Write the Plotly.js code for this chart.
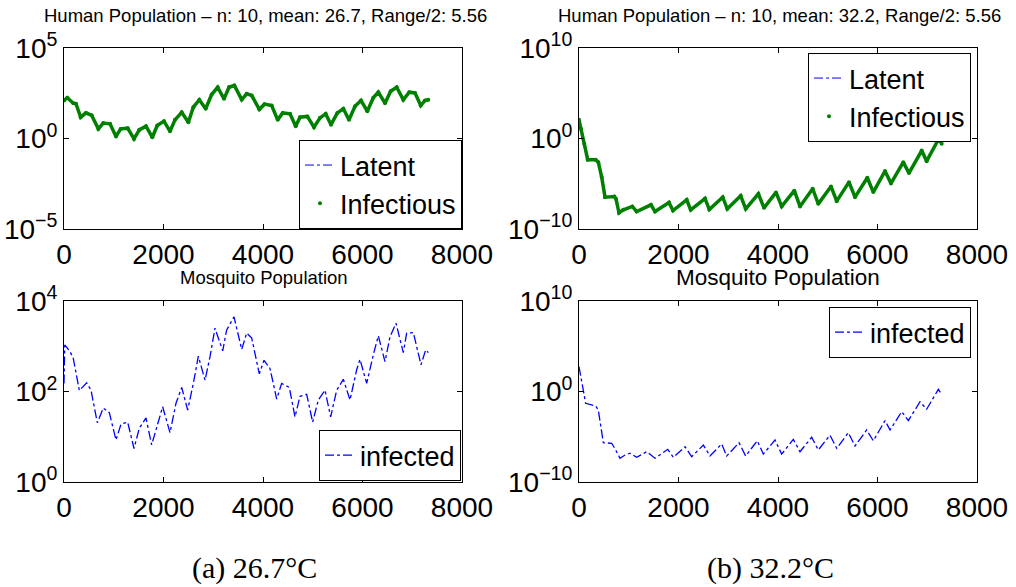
<!DOCTYPE html>
<html><head><meta charset="utf-8">
<script src="https://cdn.plot.ly/plotly-3.0.1.min.js"></script>
<style>html,body{margin:0;padding:0;background:#fff;} #chart{width:1016px;height:587px;}</style>
</head><body><div id="chart"></div>
<script>
// ---- data ----
const daysHumanA = [0,66,187,241,335,442,556,690,790,925,1045,1139,1280,1407,1514,1648,1775,1875,2010,2131,2231,2366,2500,2600,2720,2848,2968,3089,3216,3317,3424,3572,3672,3773,3926,4030,4174,4295,4396,4543,4657,4744,4891,5025,5146,5260,5367,5494,5615,5729,5849,5970,6097,6217,6318,6452,6566,6687,6820,6941,7055,7170,7256,7323];
const latentA = [126,178,89,83,14,26,19,3.2,7.1,6.5,1.2,3.4,3.7,0.9,3.0,4.8,1.1,5.2,9.1,2.4,10.7,28,7.6,54,138,43,269,676,150,676,851,138,295,240,40,79,66,10.3,26,23,4.6,15,16.6,4.0,13.8,23,5.6,26,44,10.3,60,126,31,178,363,87,407,676,135,363,331,64,126,138];
const infectiousA = [126,178,89,83,15,26,19,3.4,7.1,6.5,1.3,3.4,3.7,0.95,3.0,4.8,1.17,5.2,9.1,2.5,10.7,28,7.9,54,138,44,269,676,155,676,851,141,295,240,41,79,66,10.7,26,23,4.8,15,16.6,4.2,13.8,23,5.8,26,44,10.7,60,126,32,178,363,89,407,676,138,363,331,66,126,138];

const daysHumanB = [0,40,107,175,335,388,456,523,710,744,804,891,1072,1159,1447,1528,1809,1889,2165,2245,2533,2620,2888,2981,3250,3351,3605,3719,3960,4074,4328,4442,4697,4810,5065,5180,5427,5548,5795,5916,6151,6271,6519,6633,6888,6988,7236,7290];
const latentB = [117,11.7,0.26,0.0045,0.0045,0.0024,5.4e-5,3.3e-7,3.9e-7,2.1e-7,6.2e-9,1.3e-8,3.1e-8,8.5e-9,4.7e-8,8.5e-9,8.5e-8,1.1e-8,1.7e-7,1.3e-8,2.3e-7,1.4e-8,3.3e-7,1.7e-8,4.7e-7,1.7e-8,7.8e-7,2.2e-8,1.1e-6,3.1e-8,1.7e-6,3.1e-8,2.8e-6,6.0e-8,5.0e-6,1.2e-7,1.5e-5,3.3e-7,4.6e-5,1.2e-6,2.5e-4,1.1e-5,2.4e-3,1.5e-4,0.047,3.1e-3,1.07,0.26];
const infectiousB = [117,11.7,0.26,0.0045,0.0045,0.0024,5.4e-5,3.3e-7,3.9e-7,2.1e-7,6.2e-9,1.3e-8,3.1e-8,8.5e-9,4.7e-8,8.5e-9,8.5e-8,1.1e-8,1.7e-7,1.3e-8,2.3e-7,1.4e-8,3.3e-7,1.7e-8,4.7e-7,1.7e-8,7.8e-7,2.2e-8,1.1e-6,3.1e-8,1.7e-6,3.1e-8,2.8e-6,6.0e-8,5.0e-6,1.2e-7,1.5e-5,3.3e-7,4.6e-5,1.2e-6,2.5e-4,1.1e-5,2.4e-3,1.5e-4,0.047,3.1e-3,1.07,0.26];

const daysMosqA = [0,15,121,187,308,388,456,543,670,790,911,1045,1146,1280,1407,1514,1648,1762,1875,1983,2131,2251,2366,2486,2600,2700,2835,2935,3035,3190,3270,3417,3572,3672,3773,3926,4020,4140,4275,4375,4529,4643,4744,4878,4998,5112,5246,5360,5481,5615,5749,5883,5950,6084,6217,6318,6452,6553,6673,6820,6888,7022,7176,7270,7323];
const infectedA = [150,1070,760,540,105,129,155,107,20.4,43,34,8.5,19,21,5.5,15.5,26,6.6,18,46,12.3,55,123,39,151,603,178,589,2510,794,2290,4470,851,1950,1510,245,490,324,68,151,123,27.5,78,87,21,65,107,27.5,107,186,65,302,513,151,646,1700,457,1620,3240,724,1950,2000,389,832,724];

const daysMosqB = [0,66,134,335,388,489,657,737,824,925,1025,1159,1360,1528,1783,1896,2131,2265,2500,2633,2868,2968,3216,3350,3583,3705,3940,4074,4308,4442,4677,4810,5045,5180,5413,5548,5782,5916,6151,6252,6486,6620,6854,6988,7223,7276];
const infectedB = [550,8.1,0.05,0.025,0.0091,2.2e-6,1.9e-6,3.5e-7,4.2e-8,9.5e-8,1.5e-7,5.4e-8,2.2e-7,4.2e-8,4.1e-7,5.4e-8,7.9e-7,6.3e-8,1.2e-6,7.4e-8,1.6e-6,7.4e-8,2.2e-6,7.4e-8,3.6e-6,1.2e-7,4.4e-6,1.2e-7,5.2e-6,2.2e-7,8.7e-6,3.5e-7,1.5e-5,5.2e-7,2.8e-5,9.5e-7,5.6e-5,3.6e-6,6.0e-4,5.6e-5,5.9e-3,6.0e-4,0.074,0.011,1.74,0.63];

const xTickVals = [0,2000,4000,6000,8000];
const yTicksHumanA = [1e-5,1,1e5];
const yTextHumanA = ['10<sup>\u22125</sup>','10<sup>0</sup>','10<sup>5</sup>'];
const yTicksWide = [1e-10,1,1e10];
const yTextWide = ['10<sup>\u221210</sup>','10<sup>0</sup>','10<sup>10</sup>'];
const yTicksMosqA = [1,100,1e4];
const yTextMosqA = ['10<sup>0</sup>','10<sup>2</sup>','10<sup>4</sup>'];

const titleHumanA = 'Human Population \u2013 n: 10, mean: 26.7, Range/2: 5.56';
const titleHumanB = 'Human Population \u2013 n: 10, mean: 32.2, Range/2: 5.56';
const titleMosq = 'Mosquito Population';
const captionA = '(a) 26.7\u00B0C';
const captionB = '(b) 32.2\u00B0C';

// ---- styling / layout ----
const SANS = 'Liberation Sans, Arial, Helvetica, sans-serif';
const SERIF = 'Liberation Serif, Times New Roman, serif';
const BLUE = '#0000ff', GREEN = '#008000';

function human(days, lat, inf, xa, ya, lg) {
  return [
    {x: days, y: lat, xaxis: xa, yaxis: ya, mode: 'lines', name: 'Latent', legend: lg,
     line: {color: BLUE, width: 1, dash: 'dashdot'}},
    {x: days, y: inf, xaxis: xa, yaxis: ya, mode: 'lines', showlegend: false, legend: lg,
     line: {color: GREEN, width: 3.5}},
    {x: days, y: inf, xaxis: xa, yaxis: ya, mode: 'markers', name: 'Infectious', legend: lg,
     marker: {color: GREEN, size: 4}}
  ];
}
function mosq(days, vals, xa, ya, lg) {
  return [{x: days, y: vals, xaxis: xa, yaxis: ya, mode: 'lines', name: 'infected', legend: lg,
           line: {color: BLUE, width: 1.3, dash: 'dashdot'}}];
}

const data = [].concat(
  human(daysHumanA, latentA, infectiousA, 'x', 'y', 'legend'),
  human(daysHumanB, latentB, infectiousB, 'x2', 'y2', 'legend2'),
  mosq(daysMosqA, infectedA, 'x3', 'y3', 'legend3'),
  mosq(daysMosqB, infectedB, 'x4', 'y4', 'legend4')
);

const W = 1016, H = 587;
const L1 = 64/W, R1 = 462/W, L2 = 579/W, R2 = 977/W;
const T1 = 1-48/H, B1 = 1-229/H, T2 = 1-301/H, B2 = 1-482/H;

const axBase = {showline: true, linecolor: 'black', linewidth: 1, mirror: 'ticks',
  ticks: 'inside', ticklen: 5, tickcolor: 'black', tickwidth: 1, showgrid: false, zeroline: false,
  tickfont: {family: SANS, size: 28, color: 'black'}};
function xax(dom, anchor) {
  return Object.assign({}, axBase, {domain: dom, anchor: anchor, range: [0, 8000],
    tickmode: 'array', tickvals: xTickVals, ticktext: xTickVals.map(String)});
}
function yax(dom, anchor, rng, tv, tt) {
  return Object.assign({}, axBase, {domain: dom, anchor: anchor, type: 'log', range: rng,
    tickmode: 'array', tickvals: tv, ticktext: tt});
}
function lgd(x, y, ya) {
  return {x: x, xanchor: 'right', y: y, yanchor: ya, bgcolor: 'white', bordercolor: 'black',
    borderwidth: 1, font: {family: SANS, size: 27, color: 'black'}, tracegroupgap: 0, itemwidth: 30};
}
function ann(text, xpx, ypx, size, fam) {
  return {text: text, x: xpx/W, y: 1-ypx/H, xref: 'paper', yref: 'paper', xanchor: 'center',
    yanchor: 'middle', showarrow: false, font: {family: fam || SANS, size: size, color: 'black'}};
}

const layout = {
  width: W, height: H, margin: {l: 0, r: 0, t: 0, b: 0},
  paper_bgcolor: 'white', plot_bgcolor: 'white',
  xaxis: xax([L1, R1], 'y'),
  yaxis: yax([B1, T1], 'x', [-5, 5], yTicksHumanA, yTextHumanA),
  xaxis2: xax([L2, R2], 'y2'),
  yaxis2: yax([B1, T1], 'x2', [-10, 10], yTicksWide, yTextWide),
  xaxis3: xax([L1, R1], 'y3'),
  yaxis3: yax([B2, T2], 'x3', [0, 4], yTicksMosqA, yTextMosqA),
  xaxis4: xax([L2, R2], 'y4'),
  yaxis4: yax([B2, T2], 'x4', [-10, 10], yTicksWide, yTextWide),
  legend: lgd(462/W, 1-229/H, 'bottom'),
  legend2: lgd(971/W, 1-53/H, 'top'),
  legend3: lgd(461/W, 1-481/H, 'bottom'),
  legend4: lgd(971/W, 1-307/H, 'top'),
  showlegend: true,
  annotations: [
    ann(titleHumanA, 265, 15, 18.5),
    ann(titleHumanB, 779, 15, 18.5),
    ann(titleMosq, 264, 277, 18.5),
    ann(titleMosq, 778, 277, 22.5),
    ann(captionA, 254, 568, 30, SERIF),
    ann(captionB, 770, 568, 30, SERIF)
  ]
};

Plotly.newPlot('chart', data, layout, {staticPlot: true, displayModeBar: false});
</script>
</body></html>
